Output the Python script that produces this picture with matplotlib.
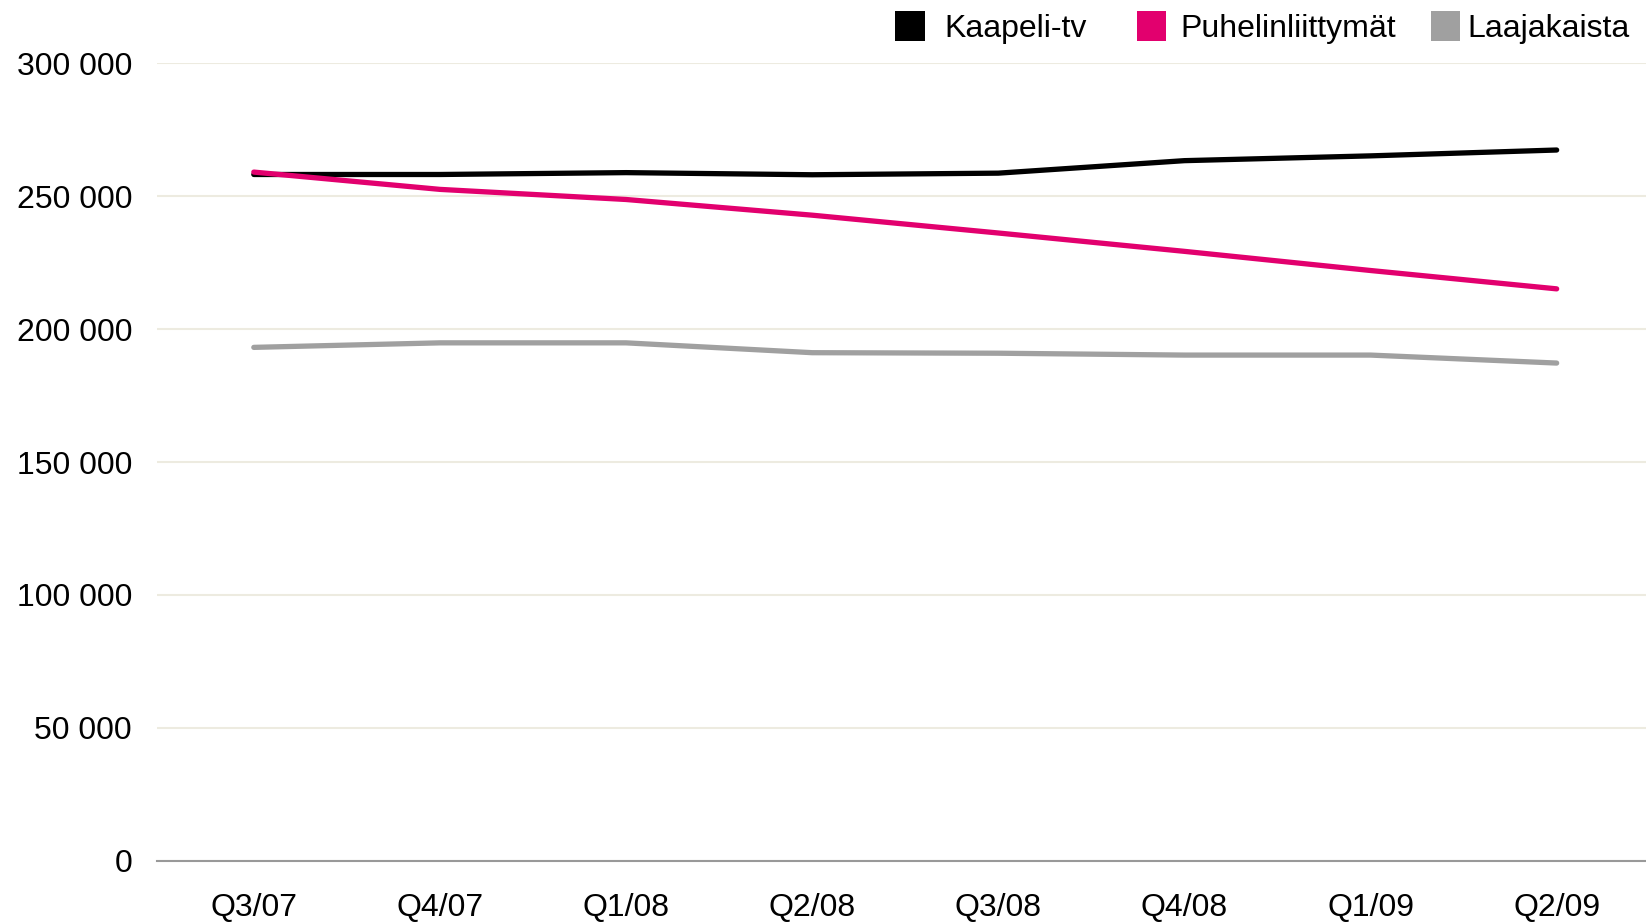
import matplotlib
matplotlib.use("Agg")
import matplotlib.pyplot as plt
from matplotlib.patches import Rectangle
from matplotlib.ticker import FuncFormatter

plt.rcParams['font.family'] = ['Liberation Sans', 'DejaVu Sans']

quarters = ["Q3/07", "Q4/07", "Q1/08", "Q2/08", "Q3/08", "Q4/08", "Q1/09", "Q2/09"]
kaapeli_tv = [258100, 258100, 258800, 258000, 258600, 263300, 265100, 267300]
puhelin = [259000, 252500, 248700, 242800, 236100, 229200, 222000, 215100]
laajakaista = [193100, 194800, 194800, 191100, 190900, 190200, 190200, 187200]

series_names = ["Kaapeli-tv", "Puhelinliittymät", "Laajakaista"]
series_colors = ["#000000", "#E2006E", "#A0A0A0"]
yticks = [0, 50000, 100000, 150000, 200000, 250000, 300000]

fig = plt.figure(figsize=(16.46, 9.23), dpi=100)
ax = fig.add_axes([0.0954, 0.0672, 0.9046, 0.8645])

x = list(range(len(quarters)))
for vals, c in zip([kaapeli_tv, puhelin, laajakaista], series_colors):
    ax.plot(x, vals, color=c, linewidth=3.8, solid_capstyle='round', solid_joinstyle='round', zorder=3)

ax.set_xlim(-0.52, len(quarters) - 0.52)
ax.set_ylim(0, 300000)
ax.set_yticks(yticks)
ax.yaxis.set_major_formatter(FuncFormatter(lambda v, p: f"{int(v):,}".replace(",", " ")))
ax.set_xticks(x)
ax.set_xticklabels(quarters)
ax.tick_params(axis='both', length=0, labelsize=23, colors='#000000')
ax.tick_params(axis='y', pad=18)
ax.tick_params(axis='x', pad=23)
ax.grid(axis='y', color='#EDEBE0', linewidth=1.5, zorder=0)
ax.set_axisbelow(True)
for s in ['top', 'right', 'left']:
    ax.spines[s].set_visible(False)
ax.spines['bottom'].set_color('#999999')
ax.spines['bottom'].set_linewidth(1.5)
ax.spines['bottom'].set_zorder(4)

# Legend (manual placement to match the reference's item positions)
W, H = 1646.0, 923.0
sq_x = [895.4, 1136.8, 1430.8]
tx_x = [944.7, 1179.9, 1467.5]
sq = 29.4
sq_top = 11.5
for name, c, sx, tx in zip(series_names, series_colors, sq_x, tx_x):
    fig.patches.append(Rectangle((sx / W, 1 - (sq_top + sq) / H), sq / W, sq / H,
                                 transform=fig.transFigure, facecolor=c, edgecolor='none'))
    fig.text(tx / W, 1 - (sq_top + sq / 2 + 3) / H, name, fontsize=23, ha='left', va='center', color='#000000')

fig.savefig("out.png", dpi=100, facecolor='white')
